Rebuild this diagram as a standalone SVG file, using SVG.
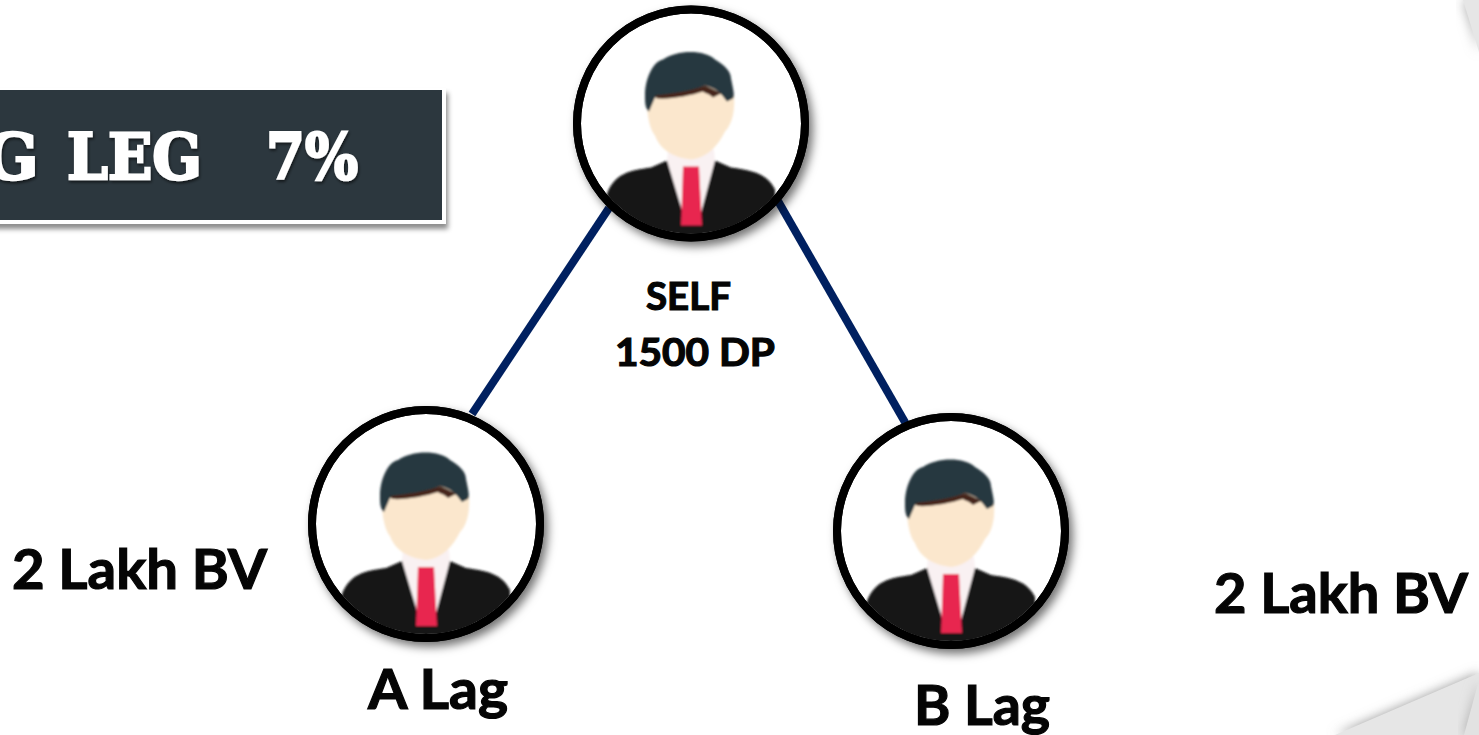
<svg xmlns="http://www.w3.org/2000/svg" width="1479" height="735" viewBox="0 0 1479 735">
<style>
.lbl{font-family:Lato,"Open Sans","Liberation Sans",sans-serif;font-weight:700;fill:#050505;stroke:#050505;stroke-width:1.2}
.big{font-size:56px}
.small{font-size:39px}
.conn{stroke:#002060;stroke-width:8;fill:none}
.ring{fill:#fff;stroke:#000;stroke-width:8;filter:url(#ds)}
.title{font-family:"DejaVu Serif","Liberation Serif",serif;font-weight:700;font-size:64px;fill:#fff;stroke:#fff;stroke-width:2.6;filter:url(#ts)}
</style>
<defs>
<filter id="ds" x="-15%" y="-15%" width="130%" height="130%"><feDropShadow dx="4" dy="5" stdDeviation="5" flood-color="#000" flood-opacity=".55"/></filter>
<filter id="ts" x="-5%" y="-15%" width="110%" height="130%"><feDropShadow dx="1" dy="2" stdDeviation="1.5" flood-color="#000" flood-opacity=".6"/></filter>
<filter id="bs" x="-5%" y="-15%" width="110%" height="130%"><feDropShadow dx="2" dy="5" stdDeviation="2.5" flood-color="#000" flood-opacity=".45"/></filter>
<filter id="soft"><feGaussianBlur stdDeviation="1"/></filter>
<filter id="shade" x="-40%" y="-40%" width="180%" height="180%"><feGaussianBlur stdDeviation="6"/></filter>
<clipPath id="inner"><circle r="110"/></clipPath>
<g id="person">
<g clip-path="url(#inner)"><g filter="url(#soft)">
<path d="M-84 70C-76 50-62 47-40 44L-24 37L24 37L40 44C62 47 76 50 84 66L84 112H-84Z" fill="#121212"/>
<path d="M-24 37L-6 97H8L24 37L23 26H-23Z" fill="#f9f1f2"/>
<path d="M-8 43H8L11 102H-10Z" fill="#e8274f"/>
<path d="M-45-30C-44-10-42 5-36 12C-30 28-16 34 0 36C18 34 28 20 34 8C42 0 44-15 43-28L30-44H-34Z" fill="#fbe7cd"/>
<path d="M-46-28C-46-45-38-62-28-64C-14-74 14-74 24-64C34-58 40-52 40-45C42-35 44-28 42-25L36-22C30-30 26-35 14-38C-2-30-20-30-36-26L-42-12C-46-15-46-22-46-28Z" fill="#27383f"/>
<path d="M-36-28C-20-30 0-32 14-38C20-35 26-33 30-30L22-26C18-30 14-30 12-32C0-28-20-24-34-25Z" fill="#46281a"/>
</g></g>
</g>
</defs>
<rect width="1479" height="735" fill="#fff"/>
<g id="background">
<path d="M1463 0L1479 52V0Z" fill="#aaa" filter="url(#shade)"/>
<path d="M1463 0L1479 52V0Z" fill="#e6e6e6"/>
<path d="M1335 735L1479 673V735Z" fill="#999" filter="url(#shade)"/>
<path d="M1335 735L1479 673V735Z" fill="#e6e6e6"/>
<path d="M1479 625V673" stroke="#bbb" stroke-width="6" filter="url(#shade)"/>
<path d="M1464 735L1479 680V735Z" fill="#aaa" filter="url(#shade)"/>
<path d="M1464 735L1479 680V735Z" fill="#e2e2e2"/>
</g>
<g id="connectors">
<path class="conn" d="M609 208L472 414"/>
<path class="conn" d="M778 201L906 424"/>
</g>
<g id="title-box">
<rect x="-10" y="88" width="456" height="136" fill="#fff" filter="url(#bs)"/>
<rect x="-10" y="90" width="452" height="130" fill="#2c373e"/>
<text class="title" y="179"><tspan x="-16">G</tspan><tspan x="67" textLength="135" lengthAdjust="spacingAndGlyphs">LEG</tspan><tspan x="266" textLength="92" lengthAdjust="spacingAndGlyphs">7%</tspan></text>
</g>
<g id="node-self">
<circle class="ring" cx="691" cy="123.5" r="114"/>
<use href="#person" x="691" y="123.5"/>
<circle cx="691" cy="123.5" r="114" fill="none" stroke="#000" stroke-width="8"/>
<text class="lbl small" x="646" y="310" textLength="85" lengthAdjust="spacingAndGlyphs">SELF</text>
<text class="lbl small" x="615" y="366" textLength="160" lengthAdjust="spacingAndGlyphs">1500 DP</text>
</g>
<g id="node-a">
<circle class="ring" cx="426" cy="524" r="114"/>
<use href="#person" x="426" y="524"/>
<circle cx="426" cy="524" r="114" fill="none" stroke="#000" stroke-width="8"/>
<text class="lbl big" x="368" y="709" textLength="140" lengthAdjust="spacingAndGlyphs">A Lag</text>
<text class="lbl big" x="12" y="589" textLength="255" lengthAdjust="spacingAndGlyphs">2 Lakh BV</text>
</g>
<g id="node-b">
<circle class="ring" cx="951" cy="531" r="114"/>
<use href="#person" x="951" y="531"/>
<circle cx="951" cy="531" r="114" fill="none" stroke="#000" stroke-width="8"/>
<text class="lbl big" x="914" y="725" textLength="136" lengthAdjust="spacingAndGlyphs">B Lag</text>
<text class="lbl big" x="1214" y="613" textLength="254" lengthAdjust="spacingAndGlyphs">2 Lakh BV</text>
</g>
</svg>
